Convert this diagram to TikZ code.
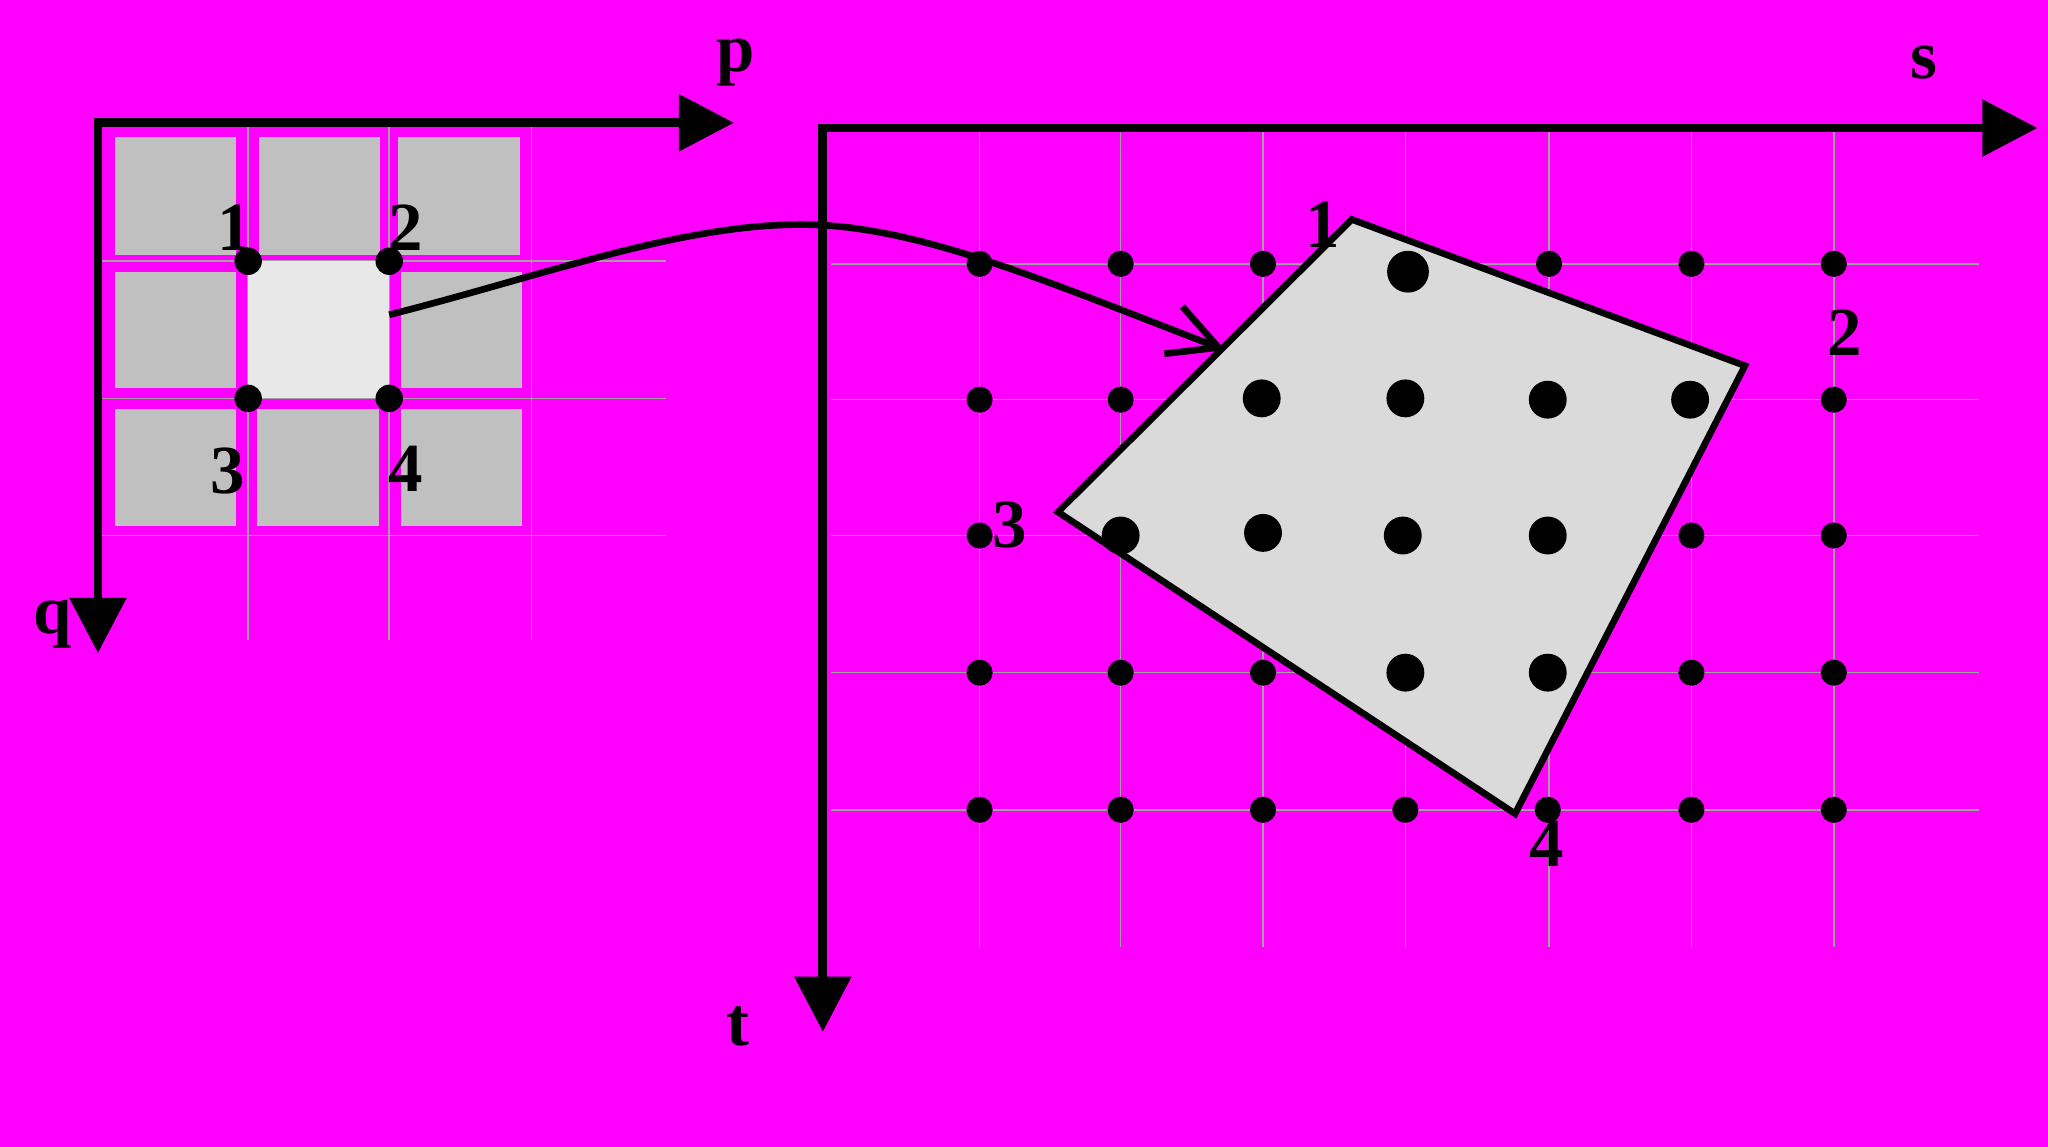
\documentclass[tikz,border=0pt]{standalone}
\usepackage{fontspec}
\setmainfont{Liberation Serif}
\usetikzlibrary{arrows.meta}
\definecolor{bgmag}{HTML}{FF00FF}
\definecolor{cellgray}{HTML}{C0C0C0}
\definecolor{cellhi}{HTML}{E8E8E8}
\definecolor{polyfill}{HTML}{DADADA}
\definecolor{gridgray}{HTML}{A0A0A0}
\tikzset{
  axis2/.style={line width=1.9pt, {Triangle[length=12pt,width=12pt]}-{Triangle[length=12pt,width=12pt]}},
  gridline/.style={draw=gridgray, line width=0.35pt},
  cell/.style={fill=cellgray},
  sdot/.style={fill=black},
  lbl/.style={font=\fontsize{15}{17}\selectfont\bfseries, inner sep=0pt, text=black},
  curvearrow/.style={line width=1.45pt, -{Straight Barb[length=10.5pt,width=11pt,line width=1.45pt]}},
  polyst/.style={draw=black, line width=1.45pt, fill=polyfill, line join=miter}
}
\begin{document}
\begin{tikzpicture}[x=0.01cm,y=-0.01cm]
\useasboundingbox (0,0) rectangle (1568,878);
\fill[bgmag] (0,0) rectangle (1568,878);

% ---------- left grid ----------
\foreach \x in {190,298,407} \draw[gridline] (\x,94) -- (\x,490);
\foreach \y in {200,305,410} \draw[gridline] (75,\y) -- (510,\y);
% cells
\fill[cell] (88,105) rectangle (181,195);
\fill[cell] (198,105) rectangle (291,195);
\fill[cell] (305,105) rectangle (398,195);
\fill[cell] (88,208) rectangle (181,297);
\fill[cellhi] (190,200) rectangle (298,305);
\fill[cell] (307,208) rectangle (400,297);
\fill[cell] (88,313) rectangle (181,403);
\fill[cell] (197,313) rectangle (290,403);
\fill[cell] (307,313) rectangle (400,403);

% left axes
\coordinate (lo) at (75,94);
\coordinate (ptip) at (562,94);
\coordinate (qtip) at (75,500);
\draw[axis2] (qtip) -- (lo) -- (ptip);
\node[lbl] (plbl) at (563,48) {p};
\node[lbl] (qlbl) at (40,478) {q};

% corner dots
\foreach \n/\x/\y in {c1/190/200,c2/298/200,c3/190/305,c4/298/305}
  \fill[sdot] (\x,\y) coordinate (\n) circle (10.5);
\node[lbl] (l1) at (180,174) {1};
\node[lbl] (l2) at (311,174) {2};
\node[lbl] (l3) at (174,361) {3};
\node[lbl] (l4) at (311,359) {4};

% ---------- right grid ----------
\foreach \x in {750,858,967,1076,1186,1295,1404} \draw[gridline] (\x,100) -- (\x,725);
\foreach \y in {202,306,410,515,620} \draw[gridline] (636,\y) -- (1515,\y);

% polygon
\coordinate (v1) at (1035,168);
\coordinate (v2) at (1336,280);
\coordinate (v4) at (1160,623);
\coordinate (v3) at (810,392);
\draw[polyst] (v1) -- (v2) -- (v4) -- (v3) -- cycle;

% small dots
\foreach \x/\y in {750/202,858/202,967/202,1186/202,1295/202,1404/202,
                   750/306,858/306,1404/306,
                   750/410,1295/410,1404/410,
                   750/515,858/515,967/515,1295/515,1404/515,
                   750/620,858/620,967/620,1076/620,1185/620,1295/620,1404/620}
  \fill[sdot] (\x,\y) circle (10);
% large dots
\fill[sdot] (1078,208) circle (16);
\foreach \x/\y in {966/305,1076/305,1185/306,1294/306,
                   858/410,967/408,1074/410,1185/410,
                   1076/515,1185/515}
  \fill[sdot] (\x,\y) circle (14.5);

\node[lbl] (r1) at (1013,172) {1};
\node[lbl] (r2) at (1412,255) {2};
\node[lbl] (r3) at (773,402) {3};
\node[lbl] (r4) at (1184,646) {4};

% right axes
\coordinate (ro) at (630,98);
\coordinate (stip) at (1560,98);
\coordinate (ttip) at (630,790);
\draw[axis2] (ttip) -- (ro) -- (stip);
\node[lbl] (slbl) at (1473,48) {s};
\node[lbl] (tlbl) at (565,786) {t};

% curved mapping arrow
\coordinate (cstart) at (298,241);
\coordinate (cmid) at (620,172);
\coordinate (cend) at (938,268);
\draw[curvearrow] (cstart) .. controls (420,210) and (525,170) .. (cmid)
   .. controls (705,174) and (800,215) .. (cend);
\end{tikzpicture}
\end{document}
